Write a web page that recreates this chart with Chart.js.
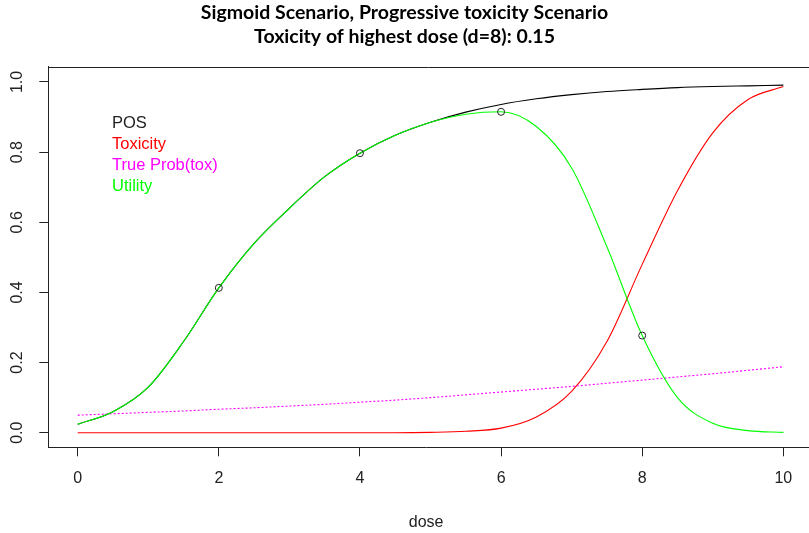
<!DOCTYPE html>
<html>
<head>
<meta charset="utf-8">
<script src="https://cdn.jsdelivr.net/npm/chart.js@4/dist/chart.umd.min.js"></script>
<style>
  html, body { margin: 0; padding: 0; background: #ffffff; overflow: hidden; }
  #wrap { position: relative; width: 809px; height: 533px; }
</style>
</head>
<body>
<div id="wrap"><canvas id="c" width="809" height="533"></canvas></div>
<script>
// ---- data ----
const titleLines = ["Sigmoid Scenario, Progressive toxicity Scenario", "Toxicity of highest dose (d=8): 0.15"];
const xAxisLabel = "dose";
const doses = [0, 0.5, 1, 1.5, 2, 2.5, 3, 3.5, 4, 4.5, 5, 5.5, 6, 6.5, 7, 7.5, 8, 8.5, 9, 9.5, 10];
const posValues = [0.024, 0.06, 0.13, 0.26, 0.413, 0.54, 0.64, 0.73, 0.797, 0.848, 0.885, 0.914, 0.936, 0.952, 0.964, 0.973, 0.979, 0.984, 0.987, 0.989, 0.991];
const toxicityValues = [0, 0, 0, 0, 0, 0, 0, 0, 0, 0, 0.001, 0.004, 0.013, 0.045, 0.118, 0.26, 0.48, 0.69, 0.855, 0.95, 0.987];
const trueProbTox = [0.05, 0.054, 0.058, 0.062, 0.067, 0.071, 0.076, 0.081, 0.087, 0.093, 0.1, 0.108, 0.116, 0.124, 0.132, 0.141, 0.15, 0.159, 0.168, 0.178, 0.188];
const utilityValues = [0.024, 0.06, 0.13, 0.26, 0.413, 0.54, 0.64, 0.73, 0.797, 0.848, 0.885, 0.908, 0.915, 0.873, 0.755, 0.53, 0.277, 0.10, 0.027, 0.006, 0.001];
const pointDoses = [2, 4, 6, 8];
const pointUtility = [0.413, 0.797, 0.915, 0.277];
const xTicks = [0, 2, 4, 6, 8, 10];
const yTicks = [0, 0.2, 0.4, 0.6, 0.8, 1.0];
const yTickLabels = ["0.0", "0.2", "0.4", "0.6", "0.8", "1.0"];
const legendNames = ["POS", "Toxicity", "True Prob(tox)", "Utility"];
const legendColors = ["#222222", "#ff0000", "#ff00ff", "#00ff00"];

const toXY = (xs, ys) => xs.map((x, i) => ({x: x, y: ys[i]}));

const boxPlugin = {
  id: 'rbox',
  afterDraw(chart) {
    const {ctx, chartArea: a, scales, width} = chart;
    ctx.save();
    ctx.strokeStyle = '#222';
    ctx.lineWidth = 1;
    ctx.beginPath();
    // top border of the plot box (the right edge of the box lies outside the picture)
    ctx.moveTo(a.left, Math.round(a.top) + 0.5);
    ctx.lineTo(width, Math.round(a.top) + 0.5);
    // continue the bottom border to the picture edge
    ctx.moveTo(a.right - 1, Math.round(a.bottom) + 0.5);
    ctx.lineTo(width, Math.round(a.bottom) + 0.5);
    ctx.stroke();
    ctx.fillStyle = '#222';
    ctx.font = '16px "Liberation Sans", Arial, sans-serif';
    ctx.textAlign = 'center';
    ctx.textBaseline = 'middle';
    yTicks.forEach((v, i) => {
      const y = scales.y.getPixelForValue(v);
      ctx.save();
      ctx.translate(17.5, y);
      ctx.rotate(-Math.PI / 2);
      ctx.fillText(yTickLabels[i], 0, 0);
      ctx.restore();
    });
    ctx.textAlign = 'left';
    ctx.textBaseline = 'alphabetic';
    ctx.font = '16.5px "Liberation Sans", Arial, sans-serif';
    legendNames.forEach((n, i) => {
      ctx.fillStyle = legendColors[i];
      ctx.fillText(n, 112, 128 + 21 * i);
    });
    ctx.restore();
  }
};

new Chart(document.getElementById('c'), {
  type: 'scatter',
  data: {
    datasets: [
      { label: 'Utility points', data: toXY(pointDoses, pointUtility), showLine: false,
        pointRadius: 3.5, pointBorderColor: '#222', pointBackgroundColor: 'rgba(0,0,0,0)', pointBorderWidth: 1, order: 0 },
      { label: 'Utility', data: toXY(doses, utilityValues), showLine: true, borderColor: '#00ff00', borderWidth: 1.1,
        pointRadius: 0, cubicInterpolationMode: 'monotone', order: 1 },
      { label: 'True Prob(tox)', data: toXY(doses, trueProbTox), showLine: true, borderColor: '#ff00ff', borderWidth: 1.1,
        borderDash: [2, 2], pointRadius: 0, cubicInterpolationMode: 'monotone', order: 2 },
      { label: 'Toxicity', data: toXY(doses, toxicityValues), showLine: true, borderColor: '#ff0000', borderWidth: 1.1,
        pointRadius: 0, cubicInterpolationMode: 'monotone', order: 3 },
      { label: 'POS', data: toXY(doses, posValues), showLine: true, borderColor: '#000000', borderWidth: 1.1,
        pointRadius: 0, cubicInterpolationMode: 'monotone', order: 4 }
    ]
  },
  options: {
    responsive: false,
    animation: false,
    layout: { padding: { top: 0, left: 0, right: 0, bottom: 0 } },
    plugins: {
      legend: { display: false },
      tooltip: { enabled: false },
      title: {
        display: true,
        text: titleLines,
        color: '#000',
        font: { family: 'Lato, "Open Sans", sans-serif', size: 19.5, weight: 'bold', lineHeight: 1.2308 },
        padding: { top: 1, bottom: 17.7 }
      }
    },
    scales: {
      x: {
        type: 'linear',
        min: -0.4167, max: 10.293,
        afterFit(s) { s.height = 85.7; },
        afterBuildTicks(s) { s.ticks = xTicks.map(v => ({value: v})); },
        grid: { drawOnChartArea: false, drawTicks: true, tickLength: 9, tickColor: '#222', tickWidth: 1 },
        border: { display: true, color: '#222', width: 1 },
        ticks: { color: '#222', font: { family: '"Liberation Sans", Arial, sans-serif', size: 16 }, padding: 13,
                 maxRotation: 0, autoSkip: false },
        title: { display: true, text: xAxisLabel, color: '#222',
                 font: { family: '"Liberation Sans", Arial, sans-serif', size: 16 }, padding: { top: 0, bottom: 0.5 } }
      },
      y: {
        type: 'linear',
        min: -0.0416, max: 1.0436,
        afterFit(s) { s.width = 48.3; },
        afterBuildTicks(s) { s.ticks = yTicks.map(v => ({value: v})); },
        grid: { drawOnChartArea: false, drawTicks: true, tickLength: 9, tickColor: '#222', tickWidth: 1 },
        border: { display: true, color: '#222', width: 1 },
        ticks: { display: false }
      }
    }
  },
  plugins: [boxPlugin]
});
</script>
</body>
</html>
